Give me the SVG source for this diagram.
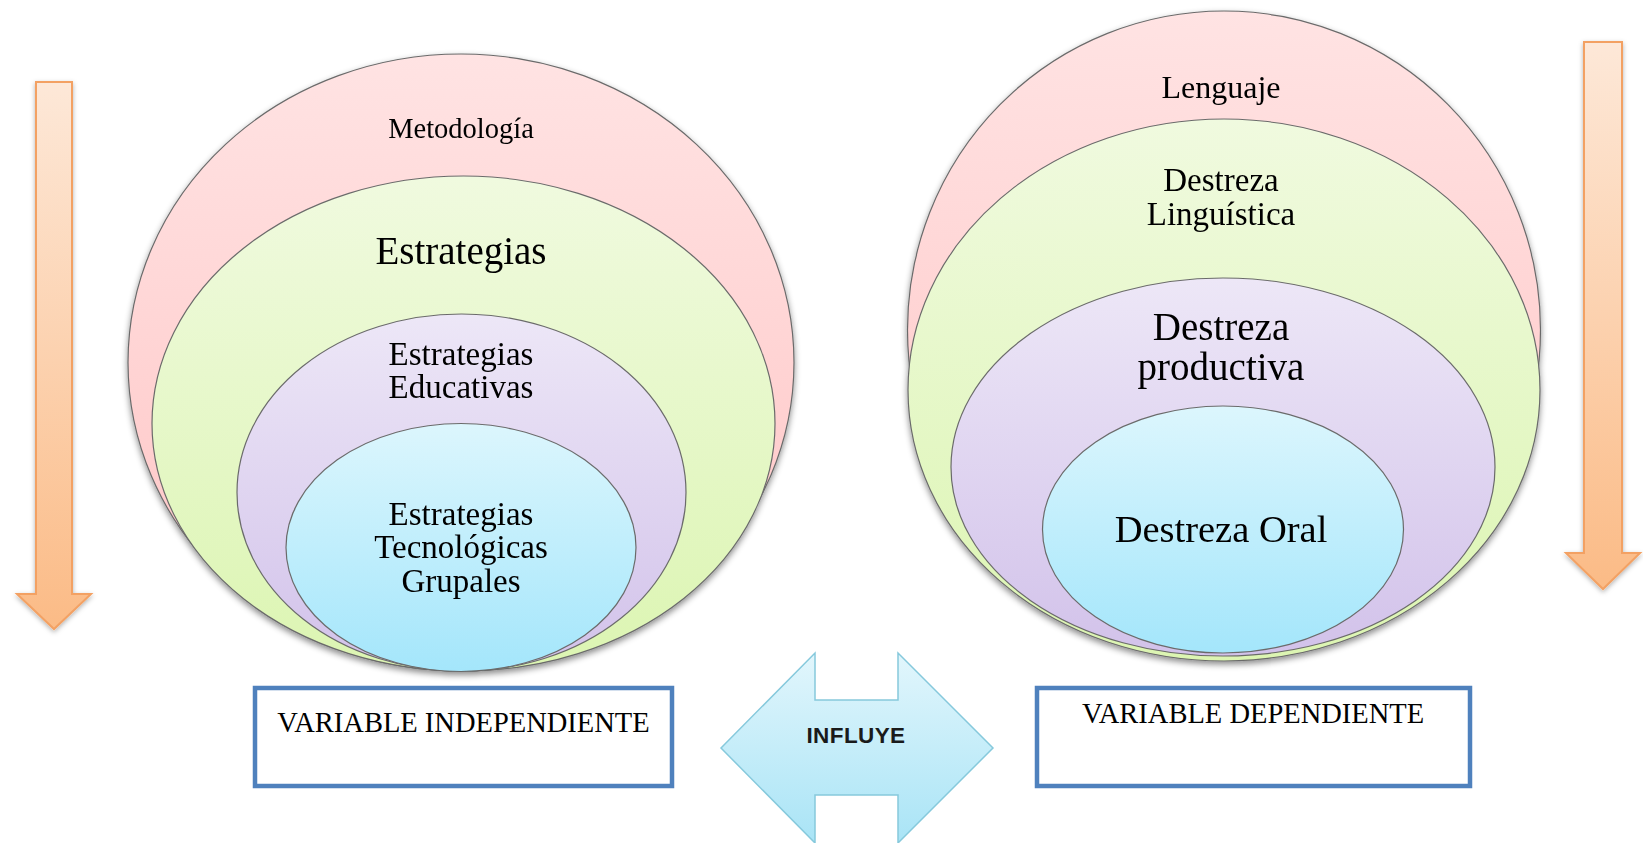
<svg xmlns="http://www.w3.org/2000/svg" width="1643" height="843" viewBox="0 0 1643 843">
<defs>
<linearGradient id="gPink" x1="0" y1="0" x2="0" y2="1"><stop offset="0" stop-color="#ffe3e3"/><stop offset="1" stop-color="#ffc4c4"/></linearGradient>
<linearGradient id="gGreen" x1="0" y1="0" x2="0" y2="1"><stop offset="0" stop-color="#f0fadf"/><stop offset="1" stop-color="#dcf5b2"/></linearGradient>
<linearGradient id="gPurple" x1="0" y1="0" x2="0" y2="1"><stop offset="0" stop-color="#ede7f7"/><stop offset="1" stop-color="#d2c2ea"/></linearGradient>
<linearGradient id="gBlue" x1="0" y1="0" x2="0" y2="1"><stop offset="0" stop-color="#dcf6fd"/><stop offset="1" stop-color="#a4e6fb"/></linearGradient>
<linearGradient id="gOrange" x1="0" y1="0" x2="0" y2="1"><stop offset="0" stop-color="#fde8d8"/><stop offset="1" stop-color="#fbbb86"/></linearGradient>
<linearGradient id="gCyan" x1="0" y1="0" x2="0" y2="1"><stop offset="0" stop-color="#e2f6fc"/><stop offset="1" stop-color="#a9e4f6"/></linearGradient>
<filter id="sh" x="-10%" y="-10%" width="120%" height="125%"><feDropShadow dx="0" dy="3" stdDeviation="3" flood-color="#000" flood-opacity="0.45"/></filter>
<filter id="shs" x="-30%" y="-5%" width="160%" height="112%"><feDropShadow dx="0" dy="2" stdDeviation="2.5" flood-color="#000" flood-opacity="0.3"/></filter>
</defs>
<style>
.c{stroke:#6b6b6b;stroke-width:1.2}
.t{font-family:"Liberation Serif","Times New Roman",serif;fill:#000;text-anchor:middle}
.box{fill:#fff;stroke:#4f81bd;stroke-width:4.5}
.oa{fill:url(#gOrange);stroke:#f3a163;stroke-width:2;filter:url(#shs)}
</style>
<rect width="1643" height="843" fill="#fff"/>

<g id="arrows">
<path class="oa" d="M36,82 H72 V594 H91 L54,629 L17,594 H36 Z"/>
<path class="oa" d="M1584,42 H1622 V553 H1640 L1603,589 L1566,553 H1584 Z"/>
</g>

<g id="left-stack" filter="url(#sh)">
<g id="metodologia">
<ellipse class="c" cx="461" cy="362.5" rx="333" ry="308.5" fill="url(#gPink)"/>
<text class="t" x="461" y="138" font-size="28.5">Metodología</text>
</g>
<g id="estrategias">
<ellipse class="c" cx="463.5" cy="423.5" rx="311.5" ry="247.5" fill="url(#gGreen)"/>
<text class="t" x="461" y="264" font-size="39">Estrategias</text>
</g>
<g id="estrategias-educativas">
<ellipse class="c" cx="461.5" cy="492.5" rx="224.5" ry="178.5" fill="url(#gPurple)"/>
<text class="t" x="461" y="365" font-size="33">Estrategias</text>
<text class="t" x="461" y="398" font-size="33">Educativas</text>
</g>
<g id="estrategias-tecnologicas">
<ellipse class="c" cx="461" cy="547.5" rx="175" ry="124" fill="url(#gBlue)"/>
<text class="t" x="461" y="525" font-size="33">Estrategias</text>
<text class="t" x="461" y="558" font-size="33">Tecnológicas</text>
<text class="t" x="461" y="592" font-size="33">Grupales</text>
</g>
</g>

<g id="right-stack" filter="url(#sh)">
<g id="lenguaje">
<ellipse class="c" cx="1224" cy="330" rx="316.5" ry="319" fill="url(#gPink)"/>
<text class="t" x="1221" y="98" font-size="32">Lenguaje</text>
</g>
<g id="destreza-linguistica">
<ellipse class="c" cx="1224" cy="390" rx="316" ry="271" fill="url(#gGreen)"/>
<text class="t" x="1221" y="191" font-size="33">Destreza</text>
<text class="t" x="1221" y="225" font-size="33">Linguística</text>
</g>
<g id="destreza-productiva">
<ellipse class="c" cx="1223" cy="467" rx="272" ry="189" fill="url(#gPurple)"/>
<text class="t" x="1221" y="340" font-size="39">Destreza</text>
<text class="t" x="1221" y="380" font-size="39">productiva</text>
</g>
<g id="destreza-oral">
<ellipse class="c" cx="1223" cy="529.5" rx="180.5" ry="123.5" fill="url(#gBlue)"/>
<text class="t" x="1221" y="542" font-size="38.5">Destreza Oral</text>
</g>
</g>

<g id="variable-independiente">
<rect class="box" x="255" y="688" width="417" height="98"/>
<text class="t" x="463.5" y="731.5" font-size="28.5">VARIABLE INDEPENDIENTE</text>
</g>

<g id="variable-dependiente">
<rect class="box" x="1037" y="688" width="433" height="98"/>
<text class="t" x="1253" y="723" font-size="28.5">VARIABLE DEPENDIENTE</text>
</g>

<g id="influye">
<path d="M721,748 L815,653 V700 H898 V653 L993,748 L898,843 V795 H815 V843 Z" fill="url(#gCyan)" stroke="#86c9dc" stroke-width="1.5"/>
<text x="856" y="743" font-family="'Liberation Sans',Arial,sans-serif" font-weight="bold" font-size="22.5" letter-spacing="0.4" text-anchor="middle" fill="#1a1a1a">INFLUYE</text>
</g>
</svg>
